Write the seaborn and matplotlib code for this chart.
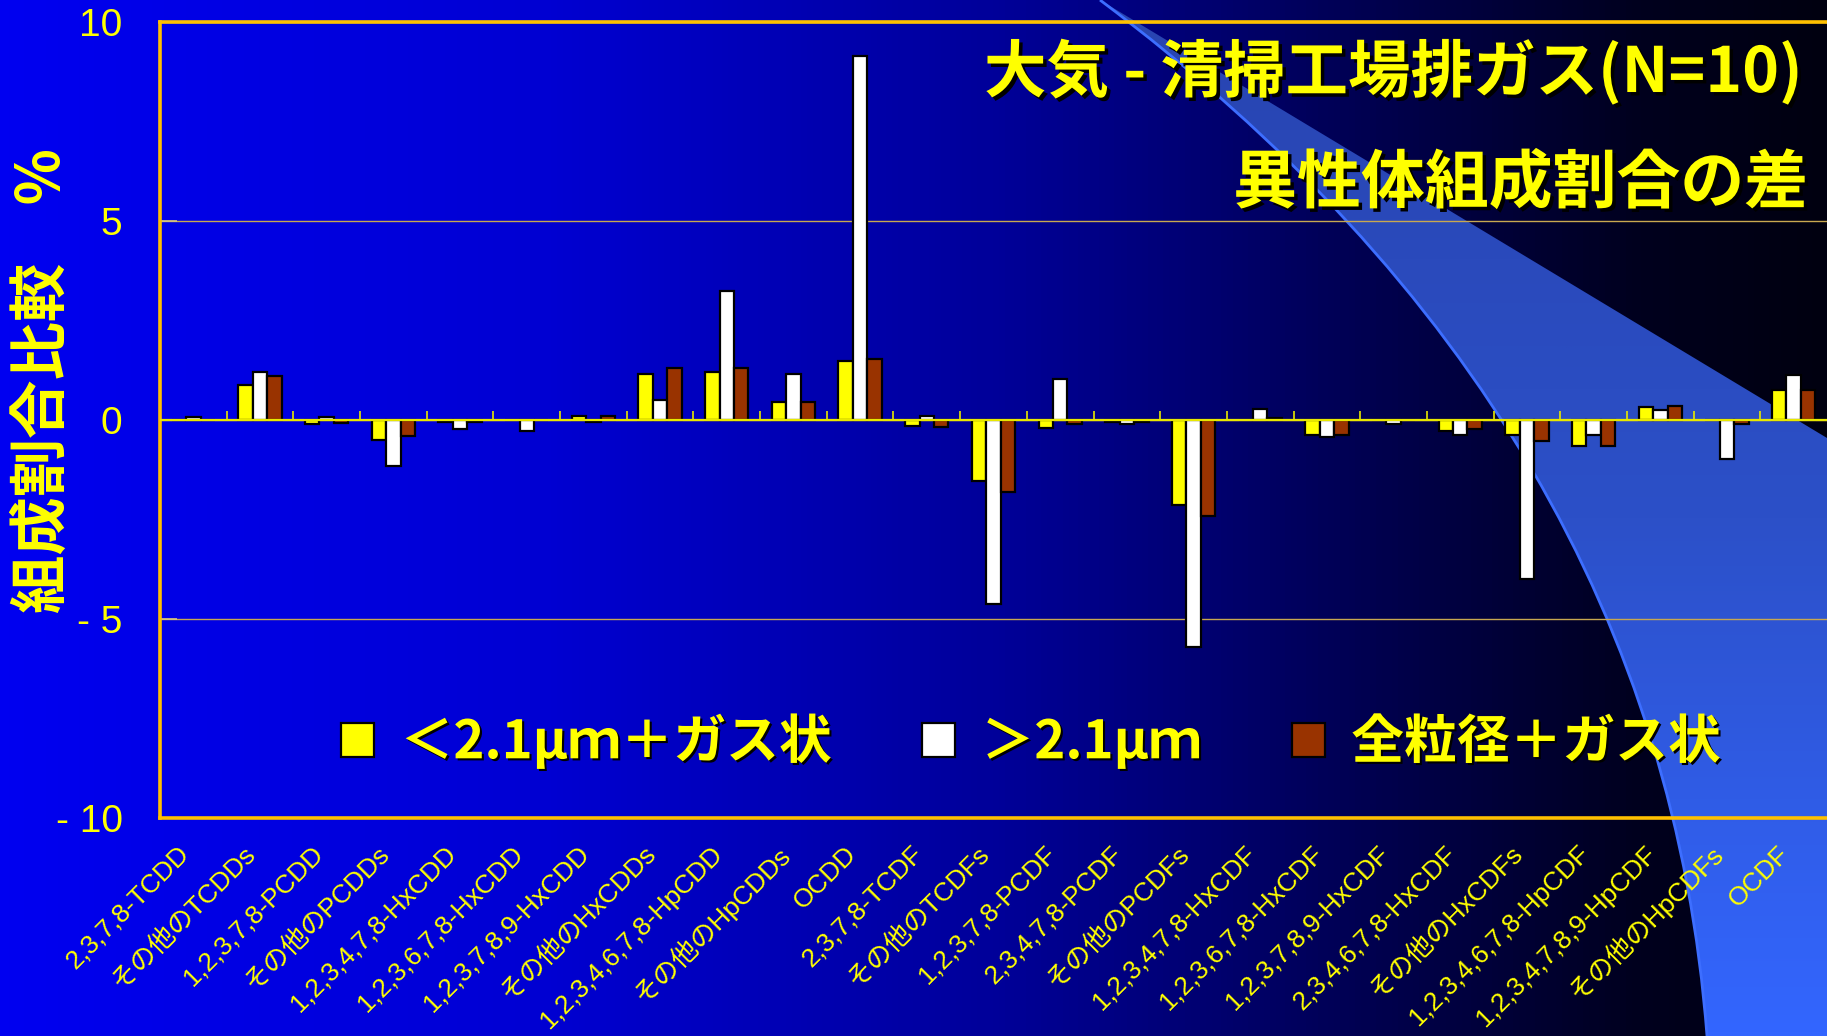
import numpy as np
import pandas as pd
import matplotlib
matplotlib.use("Agg")
import matplotlib.pyplot as plt
from matplotlib.path import Path
from matplotlib.patches import PathPatch
import matplotlib.patheffects as pe
import matplotlib.transforms as mtransforms
from matplotlib.colors import LinearSegmentedColormap
import seaborn as sns

# ---- data -----------------------------------------------------------------
categories = [
    "2,3,7,8-TCDD", "その他のTCDDs", "1,2,3,7,8-PCDD", "その他のPCDDs",
    "1,2,3,4,7,8-HxCDD", "1,2,3,6,7,8-HxCDD", "1,2,3,7,8,9-HxCDD", "その他のHxCDDs",
    "1,2,3,4,6,7,8-HpCDD", "その他のHpCDDs", "OCDD",
    "2,3,7,8-TCDF", "その他のTCDFs", "1,2,3,7,8-PCDF", "2,3,4,7,8-PCDF", "その他のPCDFs",
    "1,2,3,4,7,8-HxCDF", "1,2,3,6,7,8-HxCDF", "1,2,3,7,8,9-HxCDF", "2,3,4,6,7,8-HxCDF",
    "その他のHxCDFs", "1,2,3,4,6,7,8-HpCDF", "1,2,3,4,7,8,9-HpCDF", "その他のHpCDFs", "OCDF",
]
series_names = ["＜2.1μｍ＋ガス状", "＞2.1μｍ", "全粒径＋ガス状"]

fine_plus_gas = [0.00, 0.88, -0.11, -0.50, -0.05, 0.00, 0.11, 1.15, 1.21, 0.44, 1.48,
                 -0.16, -1.53, -0.21, -0.06, -2.13, 0.00, -0.38, 0.00, -0.27,
                 -0.37, -0.65, 0.33, 0.00, 0.75]
coarse = [0.07, 1.21, 0.07, -1.16, -0.23, -0.28, -0.06, 0.49, 3.25, 1.16, 9.15,
          0.10, -4.62, 1.03, -0.11, -5.71, 0.27, -0.42, -0.10, -0.38,
          -3.99, -0.37, 0.26, -0.97, 1.13]
total_plus_gas = [0.00, 1.10, -0.07, -0.39, -0.05, 0.00, 0.11, 1.31, 1.31, 0.44, 1.54,
                  -0.17, -1.80, -0.10, -0.06, -2.40, 0.06, -0.38, 0.00, -0.22,
                  -0.54, -0.65, 0.34, -0.10, 0.75]

y_ticks = [-10, -5, 0, 5, 10]
y_tick_labels = ["- 10", "- 5", "0", "5", "10"]
title_line1 = "大気 - 清掃工場排ガス(N=10)"
title_line2 = "異性体組成割合の差"
y_label = "組成割合比較　%"

df = pd.DataFrame({
    "category": categories * 3,
    "series": np.repeat(series_names, len(categories)),
    "value": fine_plus_gas + coarse + total_plus_gas,
})

# ---- style ----------------------------------------------------------------
sns.set_theme(style="white")
plt.rcParams["font.family"] = ["Liberation Sans", "Noto Sans CJK JP", "DejaVu Sans"]
cjk = ["Noto Sans CJK JP", "DejaVu Sans"]
yellow = "#FFFF00"

W, H = 1827, 1036
fig = plt.figure(figsize=(W / 100, H / 100), dpi=100)

# slide background: blue gradient fading to black on the right
bg = fig.add_axes([0, 0, 1, 1], zorder=-10)
bg.set_axis_off()
bg.set_xlim(0, 1)
bg.set_ylim(0, 1)
bg_cmap = LinearSegmentedColormap.from_list(
    "slide", [(0.0, "#0000F0"), (0.3, "#0000D2"), (0.55, "#000098"),
              (0.75, "#000050"), (0.9, "#00001E"), (1.0, "#000010")])
grad = np.tile(np.linspace(0, 1, 600), (10, 1))
bg.imshow(grad, cmap=bg_cmap, extent=[0, 1, 0, 1], aspect="auto", zorder=0)

# decorative light-blue swoosh on the right
def fp(x, y):
    return (x / W, 1 - y / H)

verts = [fp(1100, 0), fp(1660, 420), fp(1707, 1036), fp(W + 5, H + 5),
         fp(W + 5, 441), fp(1100, 0)]
codes = [Path.MOVETO, Path.CURVE3, Path.CURVE3, Path.LINETO, Path.LINETO, Path.CLOSEPOLY]
band_path = Path(verts, codes)
band_patch = PathPatch(band_path, facecolor="none", edgecolor="none", transform=bg.transData)
bg.add_patch(band_patch)
band_cmap = LinearSegmentedColormap.from_list("band", ["#3366FF", "#2C50C8", "#2844B0"])
vgrad = np.tile(np.linspace(0, 1, 400)[:, None], (1, 10))
im = bg.imshow(vgrad, cmap=band_cmap, extent=[0, 1, 0, 1], aspect="auto", zorder=1, origin="lower")
im.set_clip_path(band_patch)
edge_path = Path([fp(1100, 0), fp(1660, 420), fp(1707, 1036)],
                 [Path.MOVETO, Path.CURVE3, Path.CURVE3])
bg.add_patch(PathPatch(edge_path, facecolor="none", edgecolor="#3D6EFF", lw=2, zorder=2))

# ---- chart ----------------------------------------------------------------
ax = fig.add_axes([160 / W, 1 - 818 / H, (W - 160) / W, (818 - 22) / H])
ax.set_facecolor("none")

sns.barplot(data=df, x="category", y="value", hue="series",
            palette=[yellow, "#FFFFFF", "#993300"], saturation=1,
            width=0.65, edgecolor="black", linewidth=1.6, errorbar=None, ax=ax)

ax.set_xlim(-0.5, len(categories) - 0.5)
ax.set_ylim(-10, 10)
ax.set_yticks(y_ticks)
ax.set_yticklabels(y_tick_labels, color=yellow, fontsize=28, family=["Liberation Sans"])
ax.tick_params(axis="y", direction="in", length=12, width=1.2, color="#D8C880", pad=27, left=True)
ax.set_xlabel("")
ax.set_xticks(range(len(categories)))
ax.set_xticklabels(categories, rotation=45, ha="right", va="center",
                   rotation_mode="anchor", fontsize=19, color=yellow)
ax.tick_params(axis="x", length=0, pad=23)
shift = mtransforms.ScaledTranslation(-8 / 100, 0, fig.dpi_scale_trans)
for lbl in ax.get_xticklabels():
    lbl.set_transform(lbl.get_transform() + shift)

ax.yaxis.grid(True, color="#C8A850", lw=1)
ax.xaxis.grid(False)
ax.set_axisbelow(True)
for side in ["top", "left", "bottom"]:
    ax.spines[side].set_color("#FFC000")
    ax.spines[side].set_linewidth(2.6)
ax.spines["right"].set_visible(False)

# zero line with small marks between categories
ax.axhline(0, color="#E8E800", lw=1.6, zorder=5)
ax.vlines(np.arange(len(categories) - 1) + 0.5, 0, 0.23, color="#E8E800", lw=1.2, zorder=5)

ax.set_ylabel(y_label, fontsize=42, weight="bold", color=yellow, family=cjk)
ax.yaxis.set_label_coords(-0.052, 0.549)

shadow = [pe.SimplePatchShadow(offset=(2.5, -2.5), shadow_rgbFace="black", alpha=1.0), pe.Normal()]

handles, labels = ax.get_legend_handles_labels()
leg = ax.legend(handles, labels, loc="center", bbox_to_anchor=(0.5225, 0.0955), ncol=3,
                frameon=False, prop={"family": cjk, "weight": "bold", "size": 38},
                labelcolor=yellow, handlelength=0.62, handleheight=0.62,
                handletextpad=0.5, columnspacing=1.72)
for t in leg.get_texts():
    t.set_path_effects([pe.SimplePatchShadow(offset=(1.5, -1.5), shadow_rgbFace="black", alpha=1.0),
                        pe.Normal()])

fig.text(1803 / W, 1 - 72 / H, title_line1, ha="right", va="center", fontsize=45,
         weight="bold", color=yellow, family=cjk, path_effects=shadow)
fig.text(1808 / W, 1 - 184 / H, title_line2, ha="right", va="center", fontsize=46,
         weight="bold", color=yellow, family=cjk, path_effects=shadow)

fig.savefig("out.png", dpi=100)
